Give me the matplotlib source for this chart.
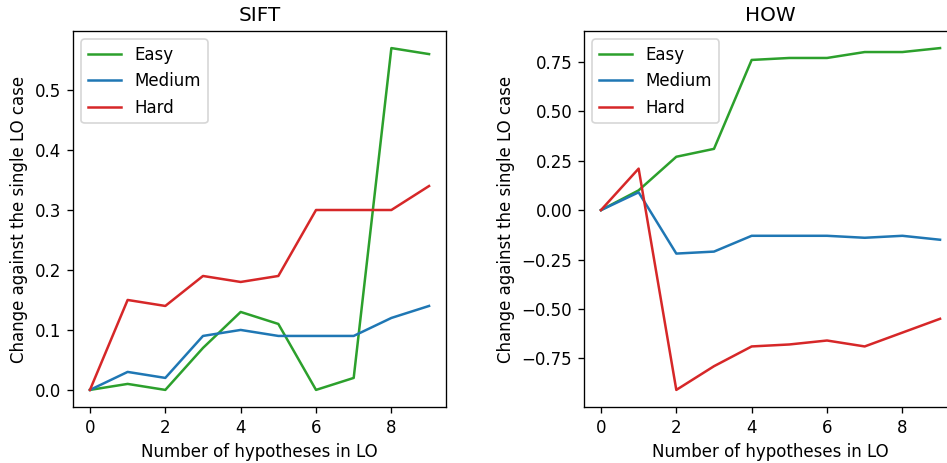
import numpy as np
import matplotlib.pyplot as plt

hypotheses = np.arange(10)

sift_easy = [0.0, 0.01, 0.0, 0.07, 0.13, 0.11, 0.0, 0.02, 0.57, 0.56]
sift_medium = [0.0, 0.03, 0.02, 0.09, 0.10, 0.09, 0.09, 0.09, 0.12, 0.14]
sift_hard = [0.0, 0.15, 0.14, 0.19, 0.18, 0.19, 0.30, 0.30, 0.30, 0.34]

how_easy = [0.0, 0.10, 0.27, 0.31, 0.76, 0.77, 0.77, 0.80, 0.80, 0.82]
how_medium = [0.0, 0.09, -0.22, -0.21, -0.13, -0.13, -0.13, -0.14, -0.13, -0.15]
how_hard = [0.0, 0.21, -0.91, -0.79, -0.69, -0.68, -0.66, -0.69, -0.62, -0.55]

panels = [
	("SIFT", sift_easy, sift_medium, sift_hard),
	("HOW", how_easy, how_medium, how_hard),
]

W, H = 947, 463
DPI = 120
fig = plt.figure(figsize=(W / DPI, H / DPI), dpi=DPI)

# axes placed in pixels; the second panel runs past the right edge
ax_left = fig.add_axes([73 / W, 56 / H, 373 / W, 376 / H])
ax_right = fig.add_axes([584 / W, 56 / H, 373 / W, 376 / H])

for ax, (title, easy, medium, hard) in zip([ax_left, ax_right], panels):
	ax.plot(hypotheses, easy, color='tab:green', label='Easy')
	ax.plot(hypotheses, medium, color='tab:blue', label='Medium')
	ax.plot(hypotheses, hard, color='tab:red', label='Hard')
	ax.set_title(title)
	ax.set_xlabel('Number of hypotheses in LO')
	ax.set_ylabel('Change against the single LO case')
	ax.legend(loc='upper left')

plt.savefig('out.png', dpi=DPI)
plt.close()
